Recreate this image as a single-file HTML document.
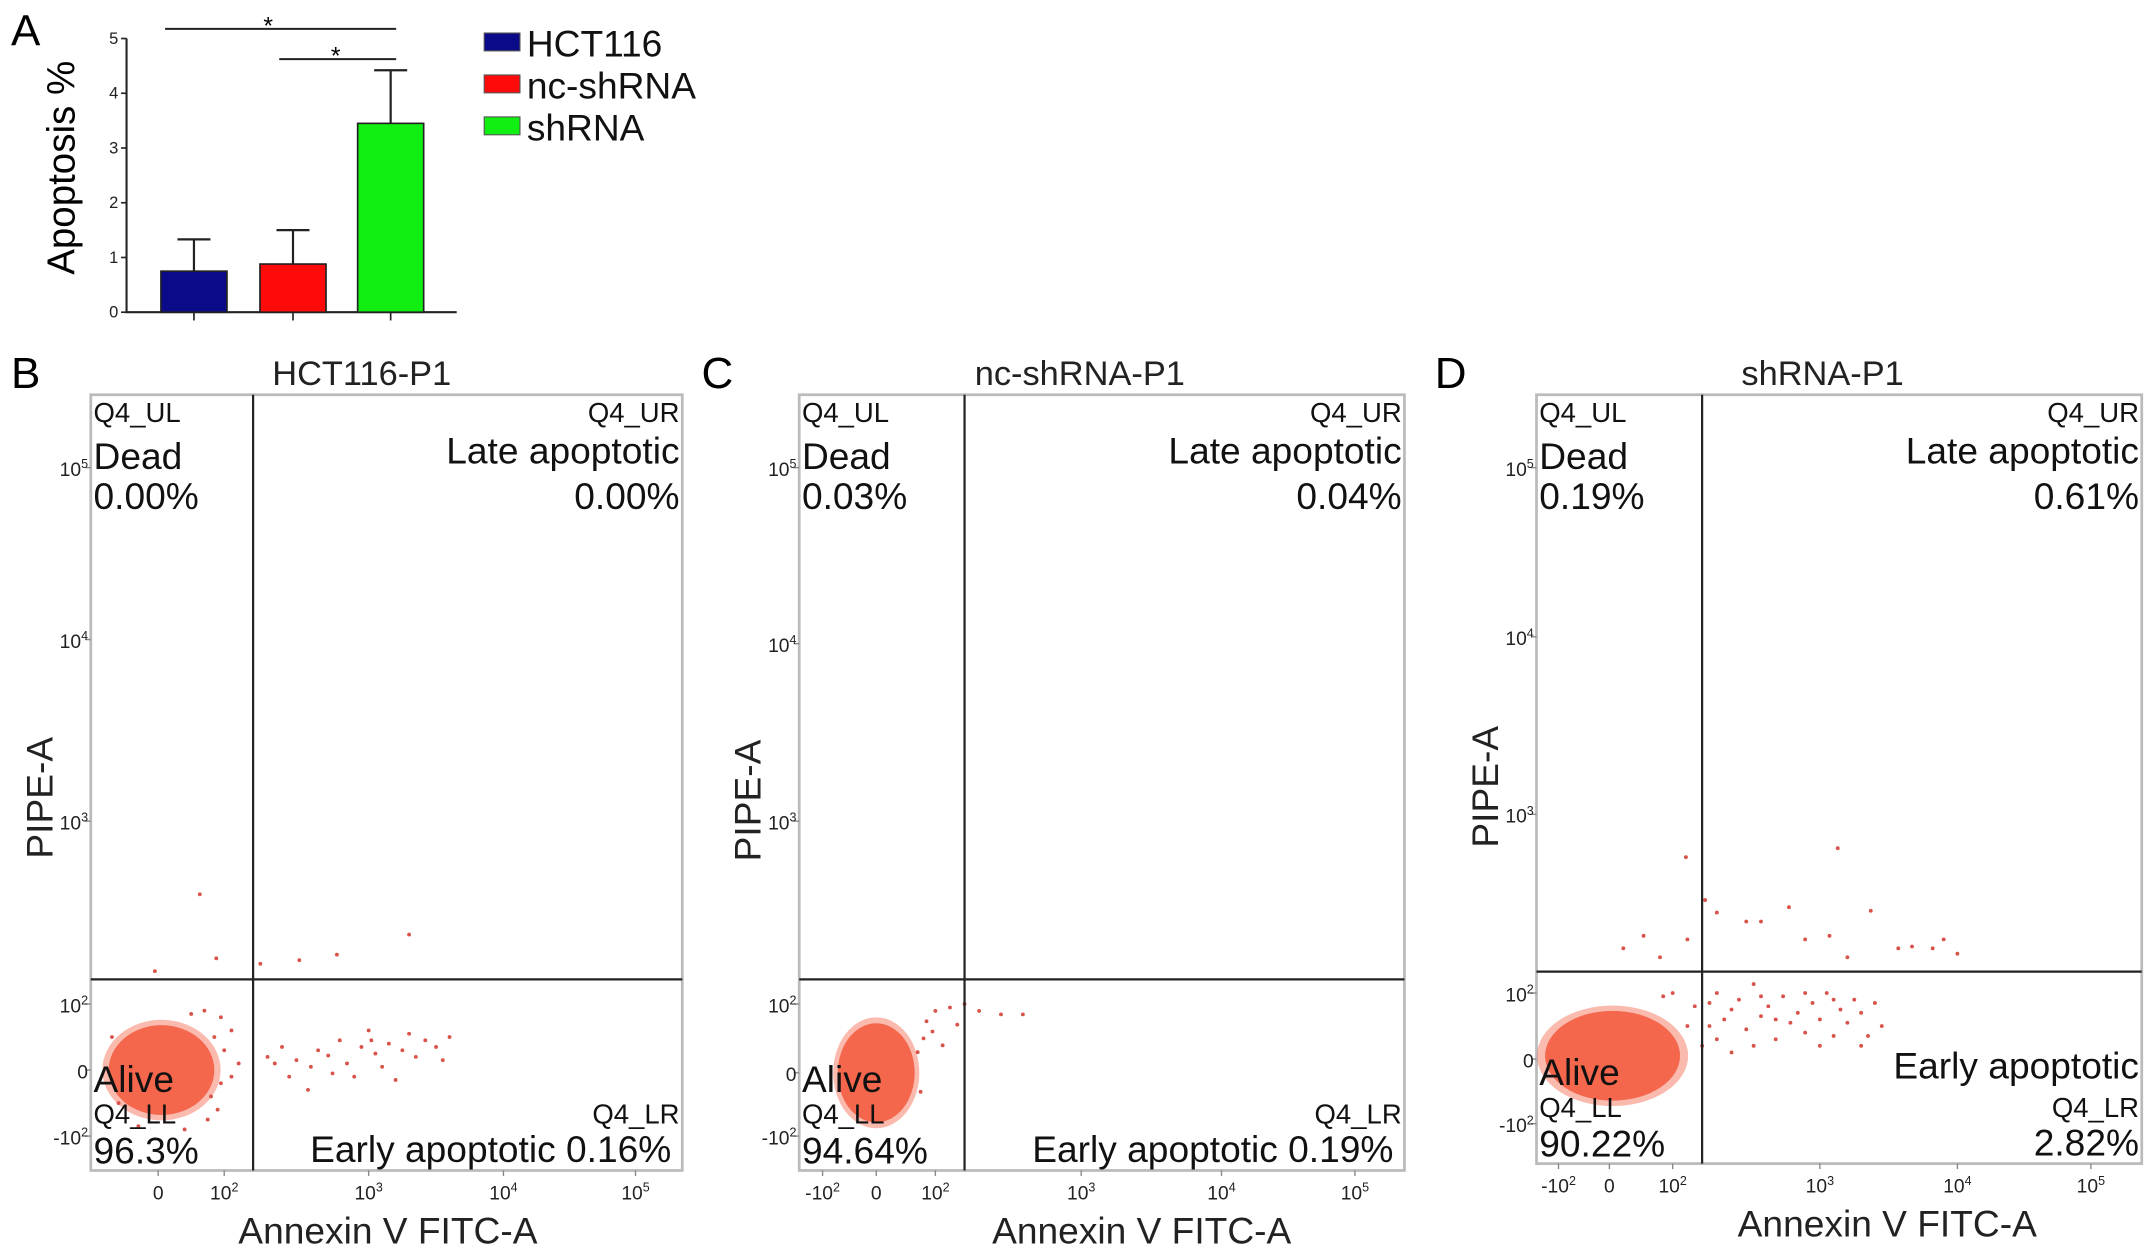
<!DOCTYPE html>
<html><head><meta charset="utf-8"><style>
html,body{margin:0;padding:0;background:#fff}
svg{display:block;font-family:"Liberation Sans",sans-serif}
</style></head><body>
<svg id="fig" width="2150" height="1253" viewBox="0 0 1563 911" preserveAspectRatio="none" xmlns="http://www.w3.org/2000/svg">
<g id="panelA"></g>
<g id="panelB"></g>
<g id="panelC"></g>
<g id="panelD"></g>
</svg>
<script>
// ---- Panel A data ----
const barCategories = ["HCT116", "nc-shRNA", "shRNA"];
const barMeans = [0.75, 0.88, 3.45];
const barErrors = [0.58, 0.62, 0.97];
const barColors = ["#0b0b8a", "#ff0a0a", "#11ee11"];
const barYTicks = [0, 1, 2, 3, 4, 5];

// ---- Flow panel data (axis units: -1=-10^2, 0=0, 1=10^2, 2=10^3, 3=10^4, 4=10^5) ----
const titlesFlow = ["HCT116-P1", "nc-shRNA-P1", "shRNA-P1"];
const quadUL = ["0.00%", "0.03%", "0.19%"];
const quadUR = ["0.00%", "0.04%", "0.61%"];
const quadLL = ["96.3%", "94.64%", "90.22%"];
const quadLR = ["0.16%", "0.19%", "2.82%"];
const gateX = [1.2, 1.2, 1.2];
const gateY = [1.135, 1.135, 1.12];
const blobB = [0.05, 0.0, 0.8, 0.68];
const blobC = [0.0, 0.0, 0.65, 0.72];
const blobD = [0.05, 0.05, 1.0, 0.68];
const pointsB = [[0.63,1.6],[-0.05,1.18],[0.88,1.25],[1.25,1.22],[1.52,1.24],[1.78,1.27],[2.3,1.38],
 [1.3,0.2],[1.35,0.1],[1.45,-0.1],[1.5,0.15],[1.6,0.05],[1.65,0.3],[1.72,0.22],[1.8,0.45],[1.85,0.1],
 [1.9,-0.1],[1.95,0.35],[2.0,0.6],[2.05,0.25],[2.1,0.05],[2.15,0.4],[2.2,-0.15],[2.25,0.3],[2.3,0.55],
 [2.35,0.2],[2.42,0.45],[2.5,0.35],[2.55,0.15],[2.6,0.5],[1.4,0.35],[1.58,-0.3],[1.75,-0.05],[2.02,0.45],
 [0.95,0.8],[0.7,0.9],[0.5,0.85],[1.05,0.6],[0.9,-0.6],[0.8,-0.4],[1.0,0.3],[0.95,-0.2],[1.1,0.1],
 [-0.7,0.5],[-0.6,-0.5],[0.85,0.5],[1.05,-0.1],[0.75,-0.75],[-0.3,-0.85],[0.4,-0.9]];
const pointsC = [[1.0,0.9],[1.1,0.95],[1.2,1.0],[1.3,0.9],[1.45,0.85],[0.95,0.6],[0.85,0.75],[1.05,0.4],[0.8,0.5],[1.15,0.7],[1.6,0.85],[0.7,0.3],[0.75,-0.3]];
const pointsD = [[1.09,1.76],[2.13,1.81],[0.54,1.32],[1.22,1.52],[1.79,1.48],[2.37,1.46],[2.57,1.25],[0.22,1.25],[1.5,1.4],[2.07,1.32],[2.67,1.26],[2.82,1.25],
 [1.3,1.45],[1.6,1.4],[1.9,1.3],[2.2,1.2],[1.1,1.3],[0.8,1.2],[2.9,1.3],[3.0,1.22],
 [1.3,1.0],[1.45,0.9],[1.55,1.05],[1.65,0.8],[1.75,0.95],[1.85,0.7],[1.95,0.85],[2.05,1.0],[2.15,0.75],[2.25,0.9],
 [1.35,0.6],[1.5,0.45],[1.6,0.65],[1.7,0.3],[1.8,0.55],[1.9,0.4],[2.0,0.6],[2.1,0.35],[2.2,0.55],[2.3,0.7],
 [1.3,0.3],[1.4,0.1],[1.25,0.5],[1.55,0.2],[2.4,0.85],[2.45,0.5],[1.15,0.8],[1.0,1.0],[0.85,0.95],[1.2,0.2],
 [1.4,0.75],[1.7,0.6],[2.0,0.2],[2.35,0.35],[1.1,0.5],[1.25,0.85],[1.6,0.95],[1.9,1.0],[2.1,0.9],[2.3,0.2]];
const xTickLabelsB = ["0","10|2","10|3","10|4","10|5"];
const xTickLabelsCD = ["-10|2","0","10|2","10|3","10|4","10|5"];
const yTickLabels = ["-10|2","0","10|2","10|3","10|4","10|5"];

const NS = "http://www.w3.org/2000/svg";
function mk(parent, tag, attrs, text) {
  const e = document.createElementNS(NS, tag);
  for (const k in attrs) e.setAttribute(k, attrs[k]);
  if (text !== undefined) e.textContent = text;
  parent.appendChild(e);
  return e;
}
function supText(parent, x, y, lab, size, anchor) {
  const t = mk(parent, "text", {x:x, y:y, "font-size":size, "text-anchor":anchor||"middle", fill:"#222"});
  const parts = lab.split("|");
  const a = document.createElementNS(NS, "tspan"); a.textContent = parts[0]; t.appendChild(a);
  if (parts[1]) { const b = document.createElementNS(NS, "tspan"); b.setAttribute("font-size", size*0.65); b.setAttribute("dy", -size*0.4); b.textContent = parts[1]; t.appendChild(b); }
  return t;
}

// ---- Panel A ----
(function(){
  const g = document.getElementById("panelA");
  const y0 = 227, ppu = 39.8, ax = 92;
  const yS = v => y0 - v*ppu;
  const centers = [141, 213, 284], bw = 48;
  const t = mk(g, "text", {x:8, y:33, "font-size":32}, "A");
   
  const yl = mk(g, "text", {x:0, y:0, "font-size":28, "text-anchor":"middle", transform:"translate(54,122) rotate(-90)"}, "Apoptosis %");
   
  const axis = mk(g, "path", {d:`M${ax},${yS(5)}V${y0}H332`, stroke:"#222", "stroke-width":1.5, fill:"none"});
   
  barYTicks.forEach(v => {
    mk(g, "line", {x1:ax-4, x2:ax, y1:yS(v), y2:yS(v), stroke:"#222", "stroke-width":1.2});
    const tl = mk(g, "text", {x:ax-6, y:yS(v)+4, "font-size":12, "text-anchor":"end", fill:"#222"}, String(v));
     
  });
  barMeans.forEach((m, i) => {
    const c = centers[i];
    const top = m + barErrors[i];
    mk(g, "path", {d:`M${c},${yS(m)}V${yS(top)}M${c-12},${yS(top)}H${c+12}`, stroke:"#222", "stroke-width":1.6});
    const r = mk(g, "rect", {x:c-bw/2, y:yS(m), width:bw, height:y0-yS(m), fill:barColors[i], stroke:"#222", "stroke-width":1.2});
    
    
    mk(g, "line", {x1:c, x2:c, y1:y0, y2:y0+6, stroke:"#222", "stroke-width":1.2});
  });
  const sig = [[120,288,21,195,17],[203,288,43,244,39]];
  sig.forEach(s => {
    const l = mk(g, "line", {x1:s[0], x2:s[1], y1:s[2], y2:s[2], stroke:"#222", "stroke-width":1.5});
     
    mk(g, "text", {x:s[3], y:s[4]+8, "font-size":18, "text-anchor":"middle"}, "*");
  });
  barCategories.forEach((c, i) => {
    const y = 31 + i*30.5;
    const sw = mk(g, "rect", {x:352, y:y-7, width:26, height:13, fill:barColors[i], stroke:"#555", "stroke-width":0.8});
     
    const lt = mk(g, "text", {x:383, y:y+10, "font-size":27, fill:"#111"}, c);
     
  });
})();

// ---- Flow panels ----
function interp(ticksU, ticksP, u) {
  for (let i = 0; i < ticksU.length-1; i++) {
    if (u <= ticksU[i+1] || i === ticksU.length-2) {
      const f = (u - ticksU[i])/(ticksU[i+1]-ticksU[i]);
      return ticksP[i] + f*(ticksP[i+1]-ticksP[i]);
    }
  }
}
function flow(id, cfg, idx, blob, pts) {
  const g = document.getElementById(id);
  const X = u => interp(cfg.xu, cfg.xp, u), Y = u => interp(cfg.yu, cfg.yp, u);
  const L = mk(g, "text", {x:cfg.letterX, y:282, "font-size":32}, cfg.letter);
   
  const T = mk(g, "text", {x:cfg.titleX, y:280, "font-size":25, "text-anchor":"middle", fill:"#222"}, titlesFlow[idx]);
   
  const box = mk(g, "rect", {x:cfg.x0, y:cfg.y0, width:cfg.x1-cfg.x0, height:cfg.y1-cfg.y0, fill:"#fff", stroke:"#bbb", "stroke-width":2});
   
  const rx0 = Math.abs(X(blob[0]+blob[2])-X(blob[0])), ry0 = Math.abs(Y(blob[1]+blob[3])-Y(blob[1]));
  const bl2 = mk(g, "ellipse", {cx:X(blob[0]), cy:Y(blob[1]), rx:rx0*1.12, ry:ry0*1.12, fill:"#f4674c", opacity:0.45});
   
  const bl = mk(g, "ellipse", {cx:X(blob[0]), cy:Y(blob[1]), rx:rx0, ry:ry0, fill:"#f4674c"});
   
  pts.forEach(p => {
    const c = mk(g, "circle", {cx:X(p[0]), cy:Y(p[1]), r:1.4, fill:"#d9534a"});
     
  });
  const gx = X(gateX[idx]), gy = Y(gateY[idx]);
  const gv = mk(g, "line", {x1:gx, x2:gx, y1:cfg.y0, y2:cfg.y1, stroke:"#222", "stroke-width":1.6});
   
  const gh = mk(g, "line", {x1:cfg.x0, x2:cfg.x1, y1:gy, y2:gy, stroke:"#222", "stroke-width":1.6});
   
  cfg.yp.forEach((p, i) => {
    mk(g, "line", {x1:cfg.x0-4, x2:cfg.x0, y1:p, y2:p, stroke:"#888"});
    const t = supText(g, cfg.x0-2, p+6, yTickLabels[i], 14, "end");
     
  });
  cfg.xp.forEach((p, i) => {
    mk(g, "line", {x1:p, x2:p, y1:cfg.y1, y2:cfg.y1+4, stroke:"#888"});
    const t = supText(g, p, cfg.y1+21, cfg.xl[i], 14, "middle");
     
  });
  const xl = mk(g, "text", {x:cfg.xlabX, y:cfg.y1+53, "font-size":27, "text-anchor":"middle", fill:"#222"}, "Annexin V FITC-A");
   
  const yl = mk(g, "text", {x:0, y:0, "font-size":27, "text-anchor":"middle", fill:"#222", transform:`translate(${cfg.x0-28},${cfg.ylabY}) rotate(-90)`}, "PIPE-A");
   
  const lx = cfg.x0+2, rx = cfg.x1-2;
  const add = (x, y, s, txt, anc, name) => { const e = mk(g, "text", {x:x, y:y, "font-size":s, "text-anchor":anc, fill:"#111"}, txt);   };
  add(lx, cfg.y0+20, 20, "Q4_UL", "start", "quadrant-ul-id");
  add(lx, cfg.y0+54, 27, "Dead", "start", "quadrant-ul-name");
  add(lx, cfg.y0+83, 27, quadUL[idx], "start", "quadrant-ul-percent");
  add(rx, cfg.y0+20, 20, "Q4_UR", "end", "quadrant-ur-id");
  add(rx, cfg.y0+50, 27, "Late apoptotic", "end", "quadrant-ur-name");
  add(rx, cfg.y0+83, 27, quadUR[idx], "end", "quadrant-ur-percent");
  add(lx, cfg.y1-57, 27, "Alive", "start", "quadrant-ll-name");
  add(lx, cfg.y1-34, 20, "Q4_LL", "start", "quadrant-ll-id");
  add(lx, cfg.y1-5, 27, quadLL[idx], "start", "quadrant-ll-percent");
  add(rx, cfg.y1-34, 20, "Q4_LR", "end", "quadrant-lr-id");
  if (idx < 2) {
    add(rx-6, cfg.y1-6, 27, "Early apoptotic " + quadLR[idx], "end", "quadrant-lr-label");
  } else {
    add(rx, cfg.y1-62, 27, "Early apoptotic", "end", "quadrant-lr-name");
    add(rx, cfg.y1-6, 27, quadLR[idx], "end", "quadrant-lr-percent");
  }
}
flow("panelB", {letter:"B", letterX:8, titleX:263, xlabX:282, ylabY:580, x0:66, x1:496, y0:287, y1:851,
  xu:[0,1,2,3,4], xp:[115,163,268,366,462], xl:xTickLabelsB,
  yu:[-1,0,1,2,3,4], yp:[826,778,730,597,465,340]}, 0, blobB, pointsB);
flow("panelC", {letter:"C", letterX:510, titleX:785, xlabX:830, ylabY:582, x0:581, x1:1021, y0:287, y1:851,
  xu:[-1,0,1,2,3,4], xp:[598,637,680,786,888,985], xl:xTickLabelsCD,
  yu:[-1,0,1,2,3,4], yp:[826,780,730,597,468,340]}, 1, blobC, pointsC);
flow("panelD", {letter:"D", letterX:1043, titleX:1325, xlabX:1372, ylabY:572, x0:1117, x1:1557, y0:287, y1:846,
  xu:[-1,0,1,2,3,4], xp:[1133,1170,1216,1323,1423,1520], xl:xTickLabelsCD,
  yu:[-1,0,1,2,3,4], yp:[817,770,722,592,463,340]}, 2, blobD, pointsD);
</script>
</body></html>
